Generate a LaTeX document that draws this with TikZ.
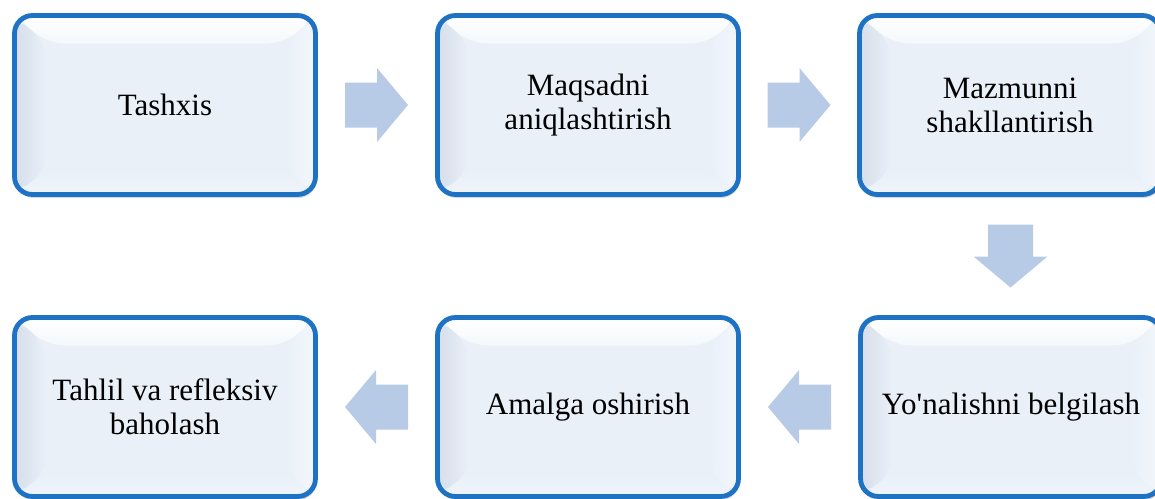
\documentclass[tikz,border=0pt]{standalone}
\usepackage{fontspec}
\setmainfont{Liberation Serif}
\usetikzlibrary{calc,shadows}
\definecolor{boxline}{RGB}{30,114,196}
\definecolor{boxfill}{RGB}{233,240,248}
\definecolor{bevtop}{RGB}{244,248,252}
\definecolor{bevleft}{RGB}{214,222,234}
\definecolor{bevright}{RGB}{243,247,252}
\definecolor{bevbot}{RGB}{239,244,250}
\definecolor{arrowfill}{RGB}{183,203,230}
\tikzset{
  stepbox/.style={draw=boxline, line width=4.8pt, fill=boxfill, rounded corners=18pt,
    minimum width=301pt, minimum height=179pt, inner sep=0pt, align=center,
    font=\fontsize{31}{34}\selectfont,
    drop shadow={opacity=0.22, shadow xshift=1pt, shadow yshift=-3.5pt, fill=black!70},
    path picture={
      \path (path picture bounding box.north west) coordinate (pnw)
            (path picture bounding box.north east) coordinate (pne)
            (path picture bounding box.south west) coordinate (psw)
            (path picture bounding box.south east) coordinate (pse);
      \shade[top color=white, bottom color=bevtop] (pnw) -- (pne) -- ([xshift=-30pt,yshift=-28pt]pne) -- ([xshift=32pt,yshift=-28pt]pnw) -- cycle;
      \shade[left color=bevleft, right color=boxfill] (pnw) -- ([xshift=32pt,yshift=-28pt]pnw) -- ([xshift=32pt,yshift=24pt]psw) -- (psw) -- cycle;
      \shade[left color=boxfill, right color=bevright] (pne) -- (pse) -- ([xshift=-30pt,yshift=24pt]pse) -- ([xshift=-30pt,yshift=-28pt]pne) -- cycle;
      \shade[top color=boxfill, bottom color=bevbot] (psw) -- ([xshift=32pt,yshift=24pt]psw) -- ([xshift=-30pt,yshift=24pt]pse) -- (pse) -- cycle;
    }},
  blockarrow/.style={fill=arrowfill, draw=none}
}
\newcommand{\blockarr}[2]{%
  \begin{scope}[shift={(#1)}, rotate=#2]
    \fill[blockarrow] (-31.5pt,-22.5pt) -- (0.5pt,-22.5pt) -- (0.5pt,-37pt) -- (31.5pt,0pt)
      -- (0.5pt,37pt) -- (0.5pt,22.5pt) -- (-31.5pt,22.5pt) -- cycle;
  \end{scope}}
\begin{document}
\begin{tikzpicture}[x=1pt,y=-1pt]
  \useasboundingbox (0,0) rectangle (1155,498);
  \clip (0,0) rectangle (1155,498);
  \node[stepbox] (a) at (165,105) {Tashxis};
  \node[stepbox] (b) at (588,105) {Maqsadni\\aniqlashtirish};
  \node[stepbox] (c) at (1010,105) {Mazmunni\\shakllantirish};
  \node[stepbox] (d) at (1011,407) {Yo\textquotesingle nalishni belgilash};
  \node[stepbox] (e) at (588,407) {Amalga oshirish};
  \node[stepbox] (f) at (165,407) {Tahlil va refleksiv\\baholash};
  \coordinate (ab) at ($(a.east)!0.5!(b.west)$);
  \coordinate (bc) at ($(b.east)!0.5!(c.west)$);
  \coordinate (cd) at ($(c.south)!0.5!(d.north)$);
  \coordinate (de) at ($(d.west)!0.5!(e.east)$);
  \coordinate (ef) at ($(e.west)!0.5!(f.east)$);
  \blockarr{ab}{0}
  \blockarr{bc}{0}
  \blockarr{cd}{-90}
  \blockarr{de}{180}
  \blockarr{ef}{180}
\end{tikzpicture}
\end{document}
